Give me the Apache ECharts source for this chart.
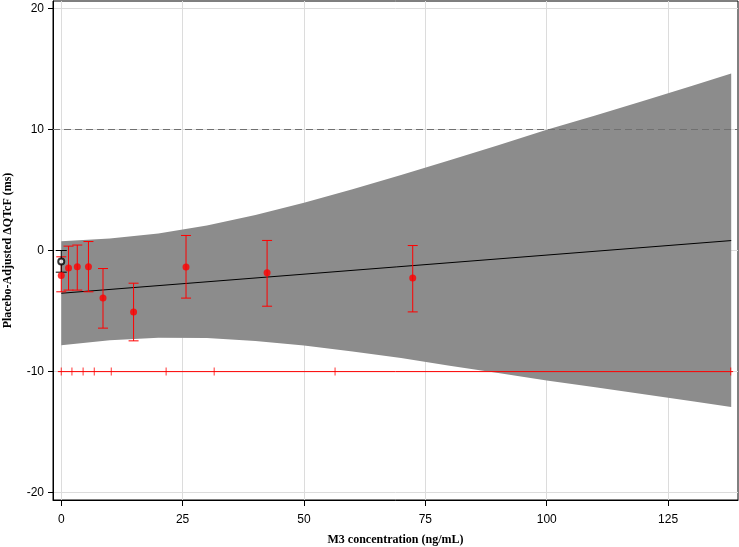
<!DOCTYPE html>
<html>
<head>
<meta charset="utf-8">
<script src="https://cdn.jsdelivr.net/npm/echarts@6/dist/echarts.min.js"></script>
<style>html,body{margin:0;padding:0;background:#fff}#c{width:739px;height:547px}</style>
</head>
<body>
<div id="c"></div>
<script>
// ---- data ----
const xTicks = [0, 25, 50, 75, 100, 125];
const yTicks = [-20, -10, 0, 10, 20];

// binned observed means (red) with 90% CI
const binConc = [0, 1.5, 3.3, 5.6, 8.6, 14.9, 25.7, 42.4, 72.4];
const binMean = [-2.07, -1.45, -1.35, -1.35, -3.93, -5.07, -1.37, -1.84, -2.28];
const binLow  = [-3.41, -3.27, -3.27, -3.41, -6.41, -7.46, -3.93, -4.60, -5.07];
const binHigh = [-0.52, 0.36, 0.45, 0.74, -1.49, -2.70, 1.24, 0.83, 0.41];

// placebo (black open circle)
const plaConc = [0];
const plaMean = [-0.91];
const plaLow  = [-1.79];
const plaHigh = [0.0];

// model prediction line
const regConc = [0, 138];
const regPred = [-3.53, 0.82];

// confidence band
const bandConc  = [0, 10, 20, 30, 40, 50, 60, 70, 80, 90, 100, 110, 120, 130, 138];
const bandUpper = [0.77, 0.99, 1.40, 2.07, 2.93, 3.95, 5.06, 6.23, 7.45, 8.70, 9.97, 11.15, 12.37, 13.60, 14.62];
const bandLower = [-7.83, -7.41, -7.20, -7.23, -7.47, -7.85, -8.34, -8.87, -9.51, -10.11, -10.73, -11.30, -11.87, -12.45, -12.93];

// concentration bin boundaries (rug at y = -10)
const rugConc = [0, 2.2, 4.5, 6.8, 10.3, 21.6, 31.5, 56.4, 137.9];
const rugY = -10;
const rugLineConc = [-0.7, 138.4];
const refLineY = 10;

// ---- chart ----
const chart = echarts.init(document.getElementById('c'), null, {renderer: 'canvas'});

function errBar(color, halfW) {
  return function (params, api) {
    const x = api.value(0), lo = api.value(1), hi = api.value(2);
    const a = api.coord([x, lo]), b = api.coord([x, hi]);
    const st = {stroke: color, lineWidth: 1};
    return {
      type: 'group',
      children: [
        {type: 'line', shape: {x1: a[0], y1: a[1], x2: b[0], y2: b[1]}, style: st},
        {type: 'line', shape: {x1: a[0] - halfW, y1: a[1], x2: a[0] + halfW, y2: a[1]}, style: st},
        {type: 'line', shape: {x1: b[0] - halfW, y1: b[1], x2: b[0] + halfW, y2: b[1]}, style: st}
      ]
    };
  };
}

const labelFont = {fontFamily: 'Liberation Sans, Arial, sans-serif', fontSize: 12, color: '#000'};
const nameFont = {fontFamily: 'Liberation Serif, Times New Roman, serif', fontSize: 12, fontWeight: 'bold', color: '#000'};

const option = {
  animation: false,
  backgroundColor: '#fff',
  grid: {left: 53, right: 1, top: 1, bottom: 47, containLabel: false, outerBoundsMode: 'none',
         show: true, borderColor: '#000', borderWidth: 1, backgroundColor: 'transparent'},
  xAxis: {
    type: 'value', min: -1.7, max: 139.4,
    name: 'M3 concentration (ng/mL)', nameLocation: 'middle', nameGap: 34, nameTextStyle: nameFont,
    axisLine: {show: true, onZero: false, lineStyle: {color: '#000'}},
    axisTick: {show: true, length: 6, customValues: xTicks, lineStyle: {color: '#000'}},
    axisLabel: Object.assign({customValues: xTicks, margin: 14}, labelFont),
    splitLine: {show: true, lineStyle: {color: '#dcdcdc', width: 1}}
  },
  yAxis: {
    type: 'value', min: -20.6, max: 20.6,
    name: 'Placebo-Adjusted \u0394QTcF (ms)', nameLocation: 'middle', nameGap: 39, nameRotate: 90, nameTextStyle: nameFont,
    axisLine: {show: true, onZero: false, lineStyle: {color: '#000'}},
    axisTick: {show: true, length: 5, customValues: yTicks, lineStyle: {color: '#000'}},
    axisLabel: Object.assign({customValues: yTicks, margin: 9}, labelFont),
    splitLine: {show: true, lineStyle: {color: '#dcdcdc', width: 1}}
  },
  series: [
    {
      type: 'custom', z: 1, silent: true,
      data: [[0]],
      renderItem: function (params, api) {
        const pts = [];
        for (let i = 0; i < bandConc.length; i++) pts.push(api.coord([bandConc[i], bandUpper[i]]));
        for (let i = bandConc.length - 1; i >= 0; i--) pts.push(api.coord([bandConc[i], bandLower[i]]));
        return {type: 'polygon', shape: {points: pts}, style: {fill: '#8c8c8c', stroke: null}};
      }
    },
    {
      type: 'line', z: 2, silent: true, symbol: 'none',
      data: rugLineConc.map(x => [x, rugY]),
      lineStyle: {color: '#ff0000', width: 1},
      markLine: {
        silent: true, symbol: ['none', 'none'], label: {show: false},
        lineStyle: {color: '#707070', type: [7, 4], width: 1},
        data: [{yAxis: refLineY}]
      }
    },
    {
      type: 'scatter', z: 3, silent: true,
      symbol: 'rect', symbolSize: [1, 8],
      itemStyle: {color: '#ff0000'},
      data: rugConc.map(x => [x, rugY])
    },
    {
      type: 'line', z: 4, silent: true, symbol: 'none',
      data: regConc.map((x, i) => [x, regPred[i]]),
      lineStyle: {color: '#000', width: 1}
    },
    {
      type: 'custom', z: 5, silent: true,
      data: binConc.map((x, i) => [x, binLow[i], binHigh[i]]),
      renderItem: errBar('#ff0000', 5)
    },
    {
      type: 'custom', z: 5, silent: true,
      data: plaConc.map((x, i) => [x, plaLow[i], plaHigh[i]]),
      renderItem: errBar('#000', 5.5)
    },
    {
      type: 'scatter', z: 6, silent: true,
      symbol: 'circle', symbolSize: 7,
      itemStyle: {color: '#ff0000'},
      data: binConc.map((x, i) => [x, binMean[i]])
    },
    {
      type: 'scatter', z: 6, silent: true,
      symbol: 'emptyCircle', symbolSize: 6,
      itemStyle: {color: '#000', borderWidth: 1},
      data: plaConc.map((x, i) => [x, plaMean[i]])
    }
  ]
};
chart.setOption(option);
</script>
</body>
</html>
